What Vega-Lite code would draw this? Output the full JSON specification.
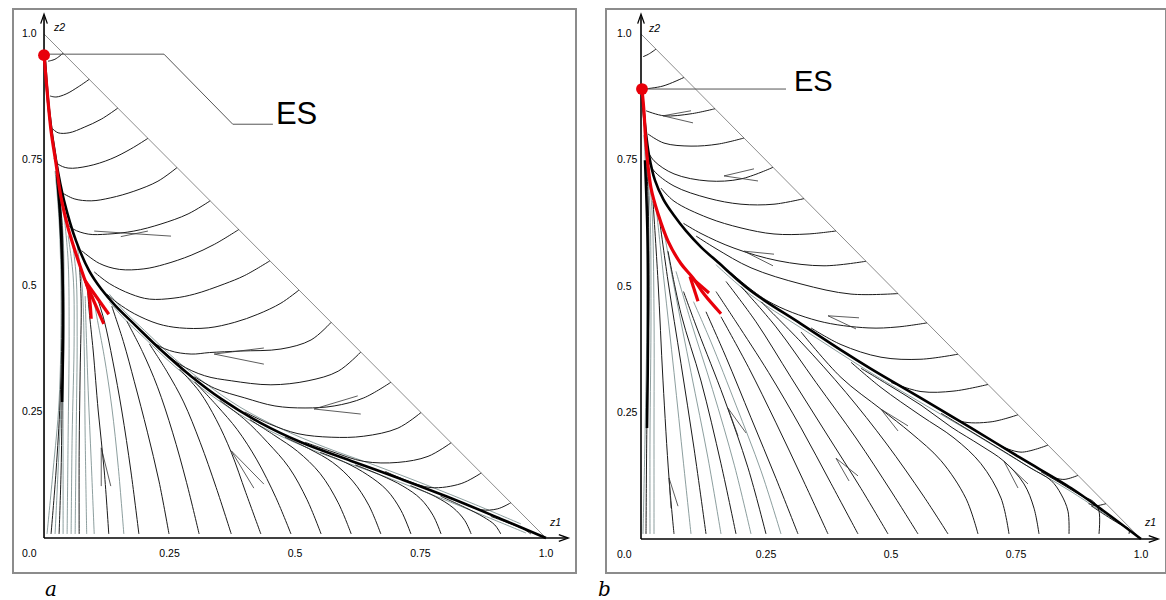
{
"$schema":"https://vega.github.io/schema/vega-lite/v6.json",
"padding":{"left":12,"top":8,"right":0,"bottom":0},
"spacing":30,
"bounds":"flush",
"config":{"view":{"stroke":"#8c8c8c","strokeWidth":2},"font":"Liberation Sans"},
"datasets":{
"ty":[{"v":1,"t":"1.0"},{"v":0.75,"t":"0.75"},{"v":0.5,"t":"0.5"},{"v":0.25,"t":"0.25"}],
"tx":[{"v":0.25,"t":"0.25"},{"v":0.5,"t":"0.5"},{"v":0.75,"t":"0.75"},{"v":1,"t":"1.0"}],
"a":[
{"c":"h","k":"h","x":0,"y":1},{"c":"h","k":"h","x":1,"y":0},
{"c":"ay","k":"ax","x":0,"y":0},{"c":"ay","k":"ax","x":0,"y":1.035},
{"c":"axx","k":"ax","x":0,"y":0},{"c":"axx","k":"ax","x":1.04,"y":0},
{"c":"ld","k":"ld","x":0,"y":0.96},{"c":"ld","k":"ld","x":0.239,"y":0.96},{"c":"ld","k":"ld","x":0.376,"y":0.821},{"c":"ld","k":"ld","x":0.456,"y":0.821},
{"c":"R","k":"r","x":0,"y":0.958},{"c":"R","k":"r","x":0.008,"y":0.867},{"c":"R","k":"r","x":0.014,"y":0.808},{"c":"R","k":"r","x":0.024,"y":0.742},{"c":"R","k":"r","x":0.034,"y":0.675},{"c":"R","k":"r","x":0.048,"y":0.615},{"c":"R","k":"r","x":0.064,"y":0.563},{"c":"R","k":"r","x":0.08,"y":0.516},{"c":"R","k":"r","x":0.088,"y":0.494},{"c":"R","k":"r","x":0.094,"y":0.435},
{"c":"R2","k":"r","x":0.082,"y":0.51},{"c":"R2","k":"r","x":0.129,"y":0.444},
{"c":"R3","k":"r","x":0.084,"y":0.505},{"c":"R3","k":"r","x":0.119,"y":0.425},
{"c":"S","k":"s","x":1,"y":0},{"c":"S","k":"s","x":0.91,"y":0.038},{"c":"S","k":"s","x":0.811,"y":0.079},{"c":"S","k":"s","x":0.711,"y":0.117},{"c":"S","k":"s","x":0.612,"y":0.153},{"c":"S","k":"s","x":0.512,"y":0.19},{"c":"S","k":"s","x":0.432,"y":0.228},{"c":"S","k":"s","x":0.353,"y":0.276},{"c":"S","k":"s","x":0.293,"y":0.321},{"c":"S","k":"s","x":0.233,"y":0.373},{"c":"S","k":"s","x":0.183,"y":0.421},{"c":"S","k":"s","x":0.143,"y":0.46},{"c":"S","k":"s","x":0.114,"y":0.494},{"c":"S","k":"s","x":0.09,"y":0.53},{"c":"S","k":"s","x":0.064,"y":0.589},{"c":"S","k":"s","x":0.04,"y":0.669},{"c":"S","k":"s","x":0.024,"y":0.748},{"c":"S","k":"s","x":0.01,"y":0.847},{"c":"S","k":"s","x":0.002,"y":0.946},
{"c":"S2","k":"g","x":0.95,"y":0.028},{"c":"S2","k":"g","x":0.86,"y":0.066},{"c":"S2","k":"g","x":0.76,"y":0.106},{"c":"S2","k":"g","x":0.66,"y":0.144},{"c":"S2","k":"g","x":0.56,"y":0.18},{"c":"S2","k":"g","x":0.47,"y":0.218},{"c":"S2","k":"g","x":0.39,"y":0.26},{"c":"S2","k":"g","x":0.32,"y":0.308},{"c":"S2","k":"g","x":0.26,"y":0.356},{"c":"S2","k":"g","x":0.2,"y":0.412},{"c":"S2","k":"g","x":0.16,"y":0.45},{"c":"S2","k":"g","x":0.13,"y":0.484},
{"c":"S3","k":"g","x":0.96,"y":0.01},{"c":"S3","k":"g","x":0.86,"y":0.051},{"c":"S3","k":"g","x":0.76,"y":0.091},{"c":"S3","k":"g","x":0.66,"y":0.129},{"c":"S3","k":"g","x":0.56,"y":0.165},{"c":"S3","k":"g","x":0.47,"y":0.203},{"c":"S3","k":"g","x":0.39,"y":0.245},{"c":"S3","k":"g","x":0.32,"y":0.293},{"c":"S3","k":"g","x":0.26,"y":0.341},{"c":"S3","k":"g","x":0.2,"y":0.397},{"c":"S3","k":"g","x":0.16,"y":0.435},{"c":"S3","k":"g","x":0.13,"y":0.469},
{"c":"A1","k":"t","x":0.038,"y":0.962},{"c":"A1","k":"t","x":0.022,"y":0.95},{"c":"A1","k":"t","x":0.008,"y":0.946},
{"c":"A2","k":"t","x":0.09,"y":0.91},{"c":"A2","k":"t","x":0.068,"y":0.895},{"c":"A2","k":"t","x":0.044,"y":0.881},{"c":"A2","k":"t","x":0.024,"y":0.875},{"c":"A2","k":"t","x":0.012,"y":0.877},
{"c":"A3","k":"t","x":0.147,"y":0.853},{"c":"A3","k":"t","x":0.114,"y":0.831},{"c":"A3","k":"t","x":0.08,"y":0.815},{"c":"A3","k":"t","x":0.05,"y":0.804},{"c":"A3","k":"t","x":0.028,"y":0.804},{"c":"A3","k":"t","x":0.017,"y":0.812},
{"c":"A4","k":"t","x":0.207,"y":0.793},{"c":"A4","k":"t","x":0.173,"y":0.772},{"c":"A4","k":"t","x":0.133,"y":0.752},{"c":"A4","k":"t","x":0.088,"y":0.738},{"c":"A4","k":"t","x":0.048,"y":0.734},{"c":"A4","k":"t","x":0.028,"y":0.742},{"c":"A4","k":"t","x":0.02,"y":0.754},
{"c":"A5","k":"t","x":0.265,"y":0.735},{"c":"A5","k":"t","x":0.227,"y":0.708},{"c":"A5","k":"t","x":0.179,"y":0.688},{"c":"A5","k":"t","x":0.133,"y":0.675},{"c":"A5","k":"t","x":0.094,"y":0.669},{"c":"A5","k":"t","x":0.06,"y":0.673},{"c":"A5","k":"t","x":0.036,"y":0.685},
{"c":"A6","k":"t","x":0.331,"y":0.669},{"c":"A6","k":"t","x":0.287,"y":0.643},{"c":"A6","k":"t","x":0.233,"y":0.623},{"c":"A6","k":"t","x":0.179,"y":0.609},{"c":"A6","k":"t","x":0.127,"y":0.603},{"c":"A6","k":"t","x":0.088,"y":0.603},{"c":"A6","k":"t","x":0.058,"y":0.613},{"c":"A6","k":"t","x":0.044,"y":0.625},
{"c":"A7","k":"t","x":0.388,"y":0.612},{"c":"A7","k":"t","x":0.34,"y":0.583},{"c":"A7","k":"t","x":0.293,"y":0.561},{"c":"A7","k":"t","x":0.24,"y":0.543},{"c":"A7","k":"t","x":0.199,"y":0.534},{"c":"A7","k":"t","x":0.15,"y":0.533},{"c":"A7","k":"t","x":0.11,"y":0.545},{"c":"A7","k":"t","x":0.075,"y":0.57},
{"c":"A8","k":"t","x":0.45,"y":0.55},{"c":"A8","k":"t","x":0.4,"y":0.521},{"c":"A8","k":"t","x":0.359,"y":0.504},{"c":"A8","k":"t","x":0.3,"y":0.484},{"c":"A8","k":"t","x":0.259,"y":0.476},{"c":"A8","k":"t","x":0.21,"y":0.474},{"c":"A8","k":"t","x":0.173,"y":0.484},{"c":"A8","k":"t","x":0.13,"y":0.505},{"c":"A8","k":"t","x":0.1,"y":0.528},
{"c":"A9","k":"t","x":0.508,"y":0.492},{"c":"A9","k":"t","x":0.472,"y":0.466},{"c":"A9","k":"t","x":0.426,"y":0.444},{"c":"A9","k":"t","x":0.38,"y":0.428},{"c":"A9","k":"t","x":0.327,"y":0.417},{"c":"A9","k":"t","x":0.27,"y":0.417},{"c":"A9","k":"t","x":0.227,"y":0.425},{"c":"A9","k":"t","x":0.18,"y":0.445},{"c":"A9","k":"t","x":0.147,"y":0.466},{"c":"A9","k":"t","x":0.125,"y":0.484},
{"c":"A10","k":"t","x":0.572,"y":0.428},{"c":"A10","k":"t","x":0.532,"y":0.393},{"c":"A10","k":"t","x":0.472,"y":0.375},{"c":"A10","k":"t","x":0.392,"y":0.371},{"c":"A10","k":"t","x":0.33,"y":0.368},{"c":"A10","k":"t","x":0.293,"y":0.365},{"c":"A10","k":"t","x":0.25,"y":0.372},{"c":"A10","k":"t","x":0.213,"y":0.391},{"c":"A10","k":"t","x":0.178,"y":0.426},
{"c":"A11","k":"t","x":0.631,"y":0.369},{"c":"A11","k":"t","x":0.586,"y":0.331},{"c":"A11","k":"t","x":0.526,"y":0.312},{"c":"A11","k":"t","x":0.452,"y":0.304},{"c":"A11","k":"t","x":0.373,"y":0.312},{"c":"A11","k":"t","x":0.32,"y":0.322},{"c":"A11","k":"t","x":0.27,"y":0.345},{"c":"A11","k":"t","x":0.22,"y":0.386},
{"c":"A12","k":"t","x":0.691,"y":0.309},{"c":"A12","k":"t","x":0.637,"y":0.278},{"c":"A12","k":"t","x":0.578,"y":0.262},{"c":"A12","k":"t","x":0.52,"y":0.258},{"c":"A12","k":"t","x":0.46,"y":0.262},{"c":"A12","k":"t","x":0.4,"y":0.278},{"c":"A12","k":"t","x":0.34,"y":0.297},{"c":"A12","k":"t","x":0.3,"y":0.32},
{"c":"A13","k":"t","x":0.751,"y":0.249},{"c":"A13","k":"t","x":0.705,"y":0.218},{"c":"A13","k":"t","x":0.637,"y":0.202},{"c":"A13","k":"t","x":0.572,"y":0.2},{"c":"A13","k":"t","x":0.506,"y":0.207},{"c":"A13","k":"t","x":0.45,"y":0.226},{"c":"A13","k":"t","x":0.4,"y":0.25},
{"c":"A14","k":"t","x":0.811,"y":0.189},{"c":"A14","k":"t","x":0.765,"y":0.162},{"c":"A14","k":"t","x":0.705,"y":0.15},{"c":"A14","k":"t","x":0.637,"y":0.152},{"c":"A14","k":"t","x":0.572,"y":0.172},{"c":"A14","k":"t","x":0.52,"y":0.19},
{"c":"A15","k":"t","x":0.871,"y":0.129},{"c":"A15","k":"t","x":0.831,"y":0.108},{"c":"A15","k":"t","x":0.771,"y":0.1},{"c":"A15","k":"t","x":0.72,"y":0.115},{"c":"A15","k":"t","x":0.68,"y":0.132},
{"c":"A16","k":"t","x":0.93,"y":0.07},{"c":"A16","k":"t","x":0.904,"y":0.058},{"c":"A16","k":"t","x":0.871,"y":0.056},{"c":"A16","k":"t","x":0.84,"y":0.068},
{"c":"T530","k":"t","x":0.97,"y":0.008},{"c":"T530","k":"t","x":0.955,"y":0.018},{"c":"T530","k":"t","x":0.93,"y":0.028},{"c":"T530","k":"t","x":0.89,"y":0.043},
{"c":"T500","k":"t","x":0.91,"y":0.008},{"c":"T500","k":"t","x":0.898,"y":0.026},{"c":"T500","k":"t","x":0.875,"y":0.042},{"c":"T500","k":"t","x":0.84,"y":0.06},{"c":"T500","k":"t","x":0.79,"y":0.083},
{"c":"T470","k":"t","x":0.851,"y":0.008},{"c":"T470","k":"t","x":0.838,"y":0.035},{"c":"T470","k":"t","x":0.815,"y":0.06},{"c":"T470","k":"t","x":0.78,"y":0.082},{"c":"T470","k":"t","x":0.73,"y":0.104},
{"c":"T440","k":"t","x":0.791,"y":0.008},{"c":"T440","k":"t","x":0.775,"y":0.045},{"c":"T440","k":"t","x":0.75,"y":0.078},{"c":"T440","k":"t","x":0.715,"y":0.103},{"c":"T440","k":"t","x":0.67,"y":0.125},{"c":"T440","k":"t","x":0.62,"y":0.145},
{"c":"T410","k":"t","x":0.731,"y":0.008},{"c":"T410","k":"t","x":0.711,"y":0.055},{"c":"T410","k":"t","x":0.683,"y":0.095},{"c":"T410","k":"t","x":0.645,"y":0.125},{"c":"T410","k":"t","x":0.6,"y":0.15},{"c":"T410","k":"t","x":0.55,"y":0.17},
{"c":"T380","k":"t","x":0.671,"y":0.008},{"c":"T380","k":"t","x":0.647,"y":0.065},{"c":"T380","k":"t","x":0.615,"y":0.113},{"c":"T380","k":"t","x":0.575,"y":0.15},{"c":"T380","k":"t","x":0.53,"y":0.176},{"c":"T380","k":"t","x":0.48,"y":0.2},
{"c":"T350","k":"t","x":0.612,"y":0.008},{"c":"T350","k":"t","x":0.586,"y":0.07},{"c":"T350","k":"t","x":0.55,"y":0.128},{"c":"T350","k":"t","x":0.505,"y":0.172},{"c":"T350","k":"t","x":0.46,"y":0.203},{"c":"T350","k":"t","x":0.41,"y":0.235},
{"c":"T320","k":"t","x":0.552,"y":0.008},{"c":"T320","k":"t","x":0.524,"y":0.076},{"c":"T320","k":"t","x":0.488,"y":0.14},{"c":"T320","k":"t","x":0.445,"y":0.19},{"c":"T320","k":"t","x":0.4,"y":0.235},{"c":"T320","k":"t","x":0.35,"y":0.273},
{"c":"T290","k":"t","x":0.492,"y":0.008},{"c":"T290","k":"t","x":0.462,"y":0.08},{"c":"T290","k":"t","x":0.424,"y":0.155},{"c":"T290","k":"t","x":0.385,"y":0.215},{"c":"T290","k":"t","x":0.345,"y":0.262},{"c":"T290","k":"t","x":0.3,"y":0.31},
{"c":"T260","k":"t","x":0.432,"y":0.008},{"c":"T260","k":"t","x":0.402,"y":0.09},{"c":"T260","k":"t","x":0.373,"y":0.17},{"c":"T260","k":"t","x":0.343,"y":0.235},{"c":"T260","k":"t","x":0.31,"y":0.29},{"c":"T260","k":"t","x":0.27,"y":0.335},
{"c":"T230","k":"t","x":0.373,"y":0.008},{"c":"T230","k":"t","x":0.343,"y":0.1},{"c":"T230","k":"t","x":0.311,"y":0.19},{"c":"T230","k":"t","x":0.278,"y":0.27},{"c":"T230","k":"t","x":0.245,"y":0.33},{"c":"T230","k":"t","x":0.21,"y":0.385},
{"c":"T198","k":"t","x":0.309,"y":0.008},{"c":"T198","k":"t","x":0.284,"y":0.11},{"c":"T198","k":"t","x":0.256,"y":0.21},{"c":"T198","k":"t","x":0.226,"y":0.3},{"c":"T198","k":"t","x":0.196,"y":0.37},{"c":"T198","k":"t","x":0.165,"y":0.43},
{"c":"T168","k":"t","x":0.249,"y":0.008},{"c":"T168","k":"t","x":0.229,"y":0.113},{"c":"T168","k":"t","x":0.206,"y":0.21},{"c":"T168","k":"t","x":0.18,"y":0.31},{"c":"T168","k":"t","x":0.158,"y":0.39},{"c":"T168","k":"t","x":0.135,"y":0.46},
{"c":"T138","k":"t","x":0.189,"y":0.008},{"c":"T138","k":"t","x":0.173,"y":0.133},{"c":"T138","k":"t","x":0.155,"y":0.252},{"c":"T138","k":"t","x":0.137,"y":0.351},{"c":"T138","k":"t","x":0.12,"y":0.431},{"c":"T138","k":"t","x":0.105,"y":0.48},
{"c":"T123","k":"g","x":0.159,"y":0.008},{"c":"T123","k":"g","x":0.148,"y":0.14},{"c":"T123","k":"g","x":0.135,"y":0.26},{"c":"T123","k":"g","x":0.12,"y":0.36},{"c":"T123","k":"g","x":0.105,"y":0.44},{"c":"T123","k":"g","x":0.098,"y":0.48},
{"c":"T108","k":"t","x":0.129,"y":0.008},{"c":"T108","k":"t","x":0.12,"y":0.133},{"c":"T108","k":"t","x":0.108,"y":0.252},{"c":"T108","k":"t","x":0.098,"y":0.371},{"c":"T108","k":"t","x":0.09,"y":0.45},{"c":"T108","k":"t","x":0.087,"y":0.49},
{"c":"T93","k":"g","x":0.1,"y":0.008},{"c":"T93","k":"g","x":0.094,"y":0.153},{"c":"T93","k":"g","x":0.088,"y":0.292},{"c":"T93","k":"g","x":0.084,"y":0.411},{"c":"T93","k":"g","x":0.082,"y":0.48},
{"c":"T78","k":"t","x":0.07,"y":0.008},{"c":"T78","k":"t","x":0.07,"y":0.173},{"c":"T78","k":"t","x":0.072,"y":0.331},{"c":"T78","k":"t","x":0.074,"y":0.47},{"c":"T78","k":"t","x":0.07,"y":0.55},
{"c":"G70","k":"g","x":0.054,"y":0.008},{"c":"G70","k":"g","x":0.056,"y":0.2},{"c":"G70","k":"g","x":0.06,"y":0.4},{"c":"G70","k":"g","x":0.058,"y":0.52},{"c":"G70","k":"g","x":0.048,"y":0.6},
{"c":"G1","k":"g","x":0.046,"y":0.008},{"c":"G1","k":"g","x":0.048,"y":0.2},{"c":"G1","k":"g","x":0.05,"y":0.4},{"c":"G1","k":"g","x":0.048,"y":0.55},{"c":"G1","k":"g","x":0.04,"y":0.64},
{"c":"G2","k":"g","x":0.062,"y":0.008},{"c":"G2","k":"g","x":0.064,"y":0.2},{"c":"G2","k":"g","x":0.066,"y":0.4},{"c":"G2","k":"g","x":0.064,"y":0.52},{"c":"G2","k":"g","x":0.055,"y":0.6},
{"c":"G3","k":"g","x":0.085,"y":0.008},{"c":"G3","k":"g","x":0.082,"y":0.2},{"c":"G3","k":"g","x":0.08,"y":0.38},{"c":"G3","k":"g","x":0.076,"y":0.5},{"c":"G3","k":"g","x":0.066,"y":0.58},
{"c":"L1","k":"g","x":0.006,"y":0.008},{"c":"L1","k":"g","x":0.018,"y":0.133},{"c":"L1","k":"g","x":0.03,"y":0.272},{"c":"L1","k":"g","x":0.034,"y":0.47},{"c":"L1","k":"g","x":0.03,"y":0.629},{"c":"L1","k":"g","x":0.022,"y":0.728},
{"c":"L2","k":"t","x":0.014,"y":0.008},{"c":"L2","k":"t","x":0.024,"y":0.133},{"c":"L2","k":"t","x":0.032,"y":0.272},{"c":"L2","k":"t","x":0.036,"y":0.47},{"c":"L2","k":"t","x":0.032,"y":0.629},{"c":"L2","k":"t","x":0.024,"y":0.728},
{"c":"L3","k":"g","x":0.022,"y":0.008},{"c":"L3","k":"g","x":0.028,"y":0.133},{"c":"L3","k":"g","x":0.034,"y":0.272},{"c":"L3","k":"g","x":0.038,"y":0.47},{"c":"L3","k":"g","x":0.034,"y":0.629},{"c":"L3","k":"g","x":0.026,"y":0.72},
{"c":"L4","k":"t","x":0.03,"y":0.008},{"c":"L4","k":"t","x":0.034,"y":0.133},{"c":"L4","k":"t","x":0.036,"y":0.272},{"c":"L4","k":"t","x":0.038,"y":0.47},{"c":"L4","k":"t","x":0.036,"y":0.62},{"c":"L4","k":"t","x":0.028,"y":0.71},
{"c":"L5","k":"g","x":0.038,"y":0.008},{"c":"L5","k":"g","x":0.038,"y":0.133},{"c":"L5","k":"g","x":0.038,"y":0.272},{"c":"L5","k":"g","x":0.04,"y":0.47},{"c":"L5","k":"g","x":0.038,"y":0.6},{"c":"L5","k":"g","x":0.03,"y":0.69},
{"c":"LB","k":"s","x":0.036,"y":0.27},{"c":"LB","k":"s","x":0.038,"y":0.4},{"c":"LB","k":"s","x":0.037,"y":0.52},{"c":"LB","k":"s","x":0.032,"y":0.64},{"c":"LB","k":"s","x":0.026,"y":0.72},
{"c":"AR1a","k":"ar","x":0.1,"y":0.609},{"c":"AR1a","k":"ar","x":0.253,"y":0.599},
{"c":"AR1b","k":"ar","x":0.153,"y":0.598},{"c":"AR1b","k":"ar","x":0.207,"y":0.609},
{"c":"AR2","k":"ar","x":0.438,"y":0.377},{"c":"AR2","k":"ar","x":0.339,"y":0.365},{"c":"AR2","k":"ar","x":0.438,"y":0.345},
{"c":"AR3","k":"ar","x":0.625,"y":0.282},{"c":"AR3","k":"ar","x":0.538,"y":0.256},{"c":"AR3","k":"ar","x":0.631,"y":0.246},
{"c":"AR4","k":"ar","x":0.438,"y":0.107},{"c":"AR4","k":"ar","x":0.373,"y":0.173},{"c":"AR4","k":"ar","x":0.418,"y":0.099},
{"c":"AR5","k":"ar","x":0.114,"y":0.103},{"c":"AR5","k":"ar","x":0.114,"y":0.179},{"c":"AR5","k":"ar","x":0.133,"y":0.103}
],
"b":[
{"c":"h","k":"h","x":0,"y":1},{"c":"h","k":"h","x":1,"y":0},
{"c":"ay","k":"ax","x":0,"y":0},{"c":"ay","k":"ax","x":0,"y":1.035},
{"c":"axx","k":"ax","x":0,"y":0},{"c":"axx","k":"ax","x":1.03,"y":0},
{"c":"ld","k":"ld","x":0.002,"y":0.891},{"c":"ld","k":"ld","x":0.29,"y":0.891},
{"c":"R","k":"r","x":0.002,"y":0.891},{"c":"R","k":"r","x":0.006,"y":0.846},{"c":"R","k":"r","x":0.01,"y":0.782},{"c":"R","k":"r","x":0.02,"y":0.695},{"c":"R","k":"r","x":0.034,"y":0.644},{"c":"R","k":"r","x":0.054,"y":0.59},{"c":"R","k":"r","x":0.08,"y":0.545},{"c":"R","k":"r","x":0.104,"y":0.517},{"c":"R","k":"r","x":0.126,"y":0.485},{"c":"R","k":"r","x":0.16,"y":0.446},
{"c":"R2","k":"r","x":0.098,"y":0.52},{"c":"R2","k":"r","x":0.114,"y":0.471},
{"c":"R3","k":"r","x":0.098,"y":0.52},{"c":"R3","k":"r","x":0.136,"y":0.487},
{"c":"S","k":"s","x":1,"y":0},{"c":"S","k":"s","x":0.926,"y":0.055},{"c":"S","k":"s","x":0.86,"y":0.101},{"c":"S","k":"s","x":0.76,"y":0.16},{"c":"S","k":"s","x":0.66,"y":0.22},{"c":"S","k":"s","x":0.56,"y":0.279},{"c":"S","k":"s","x":0.46,"y":0.337},{"c":"S","k":"s","x":0.4,"y":0.374},{"c":"S","k":"s","x":0.32,"y":0.426},{"c":"S","k":"s","x":0.22,"y":0.491},{"c":"S","k":"s","x":0.154,"y":0.548},{"c":"S","k":"s","x":0.12,"y":0.578},{"c":"S","k":"s","x":0.09,"y":0.61},{"c":"S","k":"s","x":0.065,"y":0.642},{"c":"S","k":"s","x":0.045,"y":0.672},{"c":"S","k":"s","x":0.028,"y":0.71},{"c":"S","k":"s","x":0.016,"y":0.76},{"c":"S","k":"s","x":0.008,"y":0.82},{"c":"S","k":"s","x":0.004,"y":0.86},{"c":"S","k":"s","x":0.002,"y":0.891},
{"c":"S2","k":"g","x":0.95,"y":0.035},{"c":"S2","k":"g","x":0.86,"y":0.094},{"c":"S2","k":"g","x":0.76,"y":0.152},{"c":"S2","k":"g","x":0.66,"y":0.212},{"c":"S2","k":"g","x":0.56,"y":0.27},{"c":"S2","k":"g","x":0.46,"y":0.329},{"c":"S2","k":"g","x":0.32,"y":0.418},{"c":"S2","k":"g","x":0.22,"y":0.483},{"c":"S2","k":"g","x":0.15,"y":0.543},
{"c":"LB","k":"s","x":0.012,"y":0.22},{"c":"LB","k":"s","x":0.014,"y":0.4},{"c":"LB","k":"s","x":0.013,"y":0.6},{"c":"LB","k":"s","x":0.008,"y":0.75},
{"c":"L1","k":"g","x":0.004,"y":0.01},{"c":"L1","k":"g","x":0.008,"y":0.2},{"c":"L1","k":"g","x":0.012,"y":0.45},{"c":"L1","k":"g","x":0.012,"y":0.65},{"c":"L1","k":"g","x":0.006,"y":0.8},
{"c":"L2","k":"g","x":0.018,"y":0.01},{"c":"L2","k":"g","x":0.018,"y":0.2},{"c":"L2","k":"g","x":0.02,"y":0.45},{"c":"L2","k":"g","x":0.018,"y":0.65},{"c":"L2","k":"g","x":0.01,"y":0.78},
{"c":"L3","k":"g","x":0.026,"y":0.01},{"c":"L3","k":"g","x":0.026,"y":0.2},{"c":"L3","k":"g","x":0.026,"y":0.45},{"c":"L3","k":"g","x":0.022,"y":0.65},{"c":"L3","k":"g","x":0.012,"y":0.76},
{"c":"L4","k":"t","x":0.01,"y":0.01},{"c":"L4","k":"t","x":0.012,"y":0.25},{"c":"L4","k":"t","x":0.016,"y":0.5},{"c":"L4","k":"t","x":0.014,"y":0.68},{"c":"L4","k":"t","x":0.008,"y":0.8},
{"c":"T673","k":"t","x":0.066,"y":0.01},{"c":"T673","k":"t","x":0.056,"y":0.121},{"c":"T673","k":"t","x":0.044,"y":0.313},{"c":"T673","k":"t","x":0.034,"y":0.511},{"c":"T673","k":"t","x":0.024,"y":0.669},
{"c":"T690","k":"g","x":0.1,"y":0.01},{"c":"T690","k":"g","x":0.085,"y":0.15},{"c":"T690","k":"g","x":0.066,"y":0.33},{"c":"T690","k":"g","x":0.046,"y":0.511},{"c":"T690","k":"g","x":0.03,"y":0.66},
{"c":"T705","k":"t","x":0.13,"y":0.01},{"c":"T705","k":"t","x":0.106,"y":0.18},{"c":"T705","k":"t","x":0.08,"y":0.347},{"c":"T705","k":"t","x":0.054,"y":0.511},{"c":"T705","k":"t","x":0.036,"y":0.64},
{"c":"T720","k":"g","x":0.16,"y":0.01},{"c":"T720","k":"g","x":0.134,"y":0.16},{"c":"T720","k":"g","x":0.1,"y":0.33},{"c":"T720","k":"g","x":0.068,"y":0.49},{"c":"T720","k":"g","x":0.044,"y":0.62},
{"c":"T735","k":"t","x":0.19,"y":0.01},{"c":"T735","k":"t","x":0.16,"y":0.149},{"c":"T735","k":"t","x":0.12,"y":0.313},{"c":"T735","k":"t","x":0.08,"y":0.446},{"c":"T735","k":"t","x":0.054,"y":0.57},
{"c":"T750","k":"g","x":0.22,"y":0.01},{"c":"T750","k":"g","x":0.187,"y":0.145},{"c":"T750","k":"g","x":0.143,"y":0.296},{"c":"T750","k":"g","x":0.1,"y":0.43},{"c":"T750","k":"g","x":0.07,"y":0.53},
{"c":"T765","k":"t","x":0.25,"y":0.01},{"c":"T765","k":"t","x":0.214,"y":0.141},{"c":"T765","k":"t","x":0.166,"y":0.279},{"c":"T765","k":"t","x":0.114,"y":0.412},{"c":"T765","k":"t","x":0.085,"y":0.49},
{"c":"T780","k":"g","x":0.28,"y":0.01},{"c":"T780","k":"g","x":0.24,"y":0.135},{"c":"T780","k":"g","x":0.19,"y":0.265},{"c":"T780","k":"g","x":0.14,"y":0.39},{"c":"T780","k":"g","x":0.105,"y":0.47},
{"c":"T797","k":"t","x":0.314,"y":0.01},{"c":"T797","k":"t","x":0.27,"y":0.12},{"c":"T797","k":"t","x":0.22,"y":0.24},{"c":"T797","k":"t","x":0.17,"y":0.36},{"c":"T797","k":"t","x":0.13,"y":0.45},
{"c":"T827","k":"t","x":0.374,"y":0.01},{"c":"T827","k":"t","x":0.325,"y":0.115},{"c":"T827","k":"t","x":0.27,"y":0.23},{"c":"T827","k":"t","x":0.215,"y":0.34},{"c":"T827","k":"t","x":0.16,"y":0.44},
{"c":"T857","k":"t","x":0.434,"y":0.01},{"c":"T857","k":"t","x":0.38,"y":0.11},{"c":"T857","k":"t","x":0.32,"y":0.22},{"c":"T857","k":"t","x":0.255,"y":0.33},{"c":"T857","k":"t","x":0.19,"y":0.43},{"c":"T857","k":"t","x":0.15,"y":0.49},
{"c":"T887","k":"t","x":0.494,"y":0.01},{"c":"T887","k":"t","x":0.44,"y":0.1},{"c":"T887","k":"t","x":0.37,"y":0.21},{"c":"T887","k":"t","x":0.3,"y":0.32},{"c":"T887","k":"t","x":0.23,"y":0.43},{"c":"T887","k":"t","x":0.17,"y":0.51},
{"c":"T917","k":"t","x":0.554,"y":0.01},{"c":"T917","k":"t","x":0.5,"y":0.095},{"c":"T917","k":"t","x":0.43,"y":0.2},{"c":"T917","k":"t","x":0.35,"y":0.31},{"c":"T917","k":"t","x":0.27,"y":0.42},{"c":"T917","k":"t","x":0.2,"y":0.5},
{"c":"T947","k":"t","x":0.614,"y":0.01},{"c":"T947","k":"t","x":0.565,"y":0.085},{"c":"T947","k":"t","x":0.49,"y":0.19},{"c":"T947","k":"t","x":0.41,"y":0.29},{"c":"T947","k":"t","x":0.32,"y":0.39},{"c":"T947","k":"t","x":0.24,"y":0.47},
{"c":"T977","k":"t","x":0.674,"y":0.01},{"c":"T977","k":"t","x":0.65,"y":0.08},{"c":"T977","k":"t","x":0.6,"y":0.155},{"c":"T977","k":"t","x":0.54,"y":0.21},{"c":"T977","k":"t","x":0.48,"y":0.257},{"c":"T977","k":"t","x":0.4,"y":0.32},{"c":"T977","k":"t","x":0.32,"y":0.41},
{"c":"T1008","k":"t","x":0.736,"y":0.01},{"c":"T1008","k":"t","x":0.72,"y":0.081},{"c":"T1008","k":"t","x":0.68,"y":0.149},{"c":"T1008","k":"t","x":0.626,"y":0.2},{"c":"T1008","k":"t","x":0.56,"y":0.244},{"c":"T1008","k":"t","x":0.48,"y":0.3},{"c":"T1008","k":"t","x":0.42,"y":0.35},
{"c":"T1038","k":"t","x":0.796,"y":0.01},{"c":"T1038","k":"t","x":0.786,"y":0.061},{"c":"T1038","k":"t","x":0.766,"y":0.109},{"c":"T1038","k":"t","x":0.726,"y":0.154},{"c":"T1038","k":"t","x":0.68,"y":0.185},{"c":"T1038","k":"t","x":0.62,"y":0.222},{"c":"T1038","k":"t","x":0.56,"y":0.265},{"c":"T1038","k":"t","x":0.5,"y":0.302},{"c":"T1038","k":"t","x":0.44,"y":0.338},
{"c":"T1068","k":"t","x":0.856,"y":0.01},{"c":"T1068","k":"t","x":0.854,"y":0.055},{"c":"T1068","k":"t","x":0.84,"y":0.089},{"c":"T1068","k":"t","x":0.82,"y":0.116},{"c":"T1068","k":"t","x":0.78,"y":0.14},{"c":"T1068","k":"t","x":0.72,"y":0.177},{"c":"T1068","k":"t","x":0.66,"y":0.213},{"c":"T1068","k":"t","x":0.6,"y":0.249},
{"c":"T1098","k":"t","x":0.916,"y":0.01},{"c":"T1098","k":"t","x":0.916,"y":0.055},{"c":"T1098","k":"t","x":0.905,"y":0.074},{"c":"T1098","k":"t","x":0.88,"y":0.086},{"c":"T1098","k":"t","x":0.84,"y":0.11},{"c":"T1098","k":"t","x":0.8,"y":0.133},
{"c":"T1128","k":"t","x":0.976,"y":0.01},{"c":"T1128","k":"t","x":0.976,"y":0.02},{"c":"T1128","k":"t","x":0.962,"y":0.027},{"c":"T1128","k":"t","x":0.94,"y":0.04},{"c":"T1128","k":"t","x":0.9,"y":0.066},
{"c":"B0","k":"t","x":0.03,"y":0.97},{"c":"B0","k":"t","x":0.015,"y":0.96},{"c":"B0","k":"t","x":0.004,"y":0.955},
{"c":"B1","k":"t","x":0.086,"y":0.914},{"c":"B1","k":"t","x":0.044,"y":0.897},{"c":"B1","k":"t","x":0.006,"y":0.891},
{"c":"B2","k":"t","x":0.148,"y":0.852},{"c":"B2","k":"t","x":0.1,"y":0.842},{"c":"B2","k":"t","x":0.046,"y":0.838},{"c":"B2","k":"t","x":0.01,"y":0.848},
{"c":"B3","k":"t","x":0.206,"y":0.794},{"c":"B3","k":"t","x":0.154,"y":0.782},{"c":"B3","k":"t","x":0.1,"y":0.778},{"c":"B3","k":"t","x":0.046,"y":0.784},{"c":"B3","k":"t","x":0.014,"y":0.802},
{"c":"B4","k":"t","x":0.264,"y":0.736},{"c":"B4","k":"t","x":0.2,"y":0.713},{"c":"B4","k":"t","x":0.134,"y":0.709},{"c":"B4","k":"t","x":0.066,"y":0.723},{"c":"B4","k":"t","x":0.026,"y":0.749},{"c":"B4","k":"t","x":0.01,"y":0.774},
{"c":"B5","k":"t","x":0.326,"y":0.674},{"c":"B5","k":"t","x":0.266,"y":0.663},{"c":"B5","k":"t","x":0.2,"y":0.663},{"c":"B5","k":"t","x":0.134,"y":0.675},{"c":"B5","k":"t","x":0.066,"y":0.699},{"c":"B5","k":"t","x":0.026,"y":0.729},{"c":"B5","k":"t","x":0.014,"y":0.75},
{"c":"B6","k":"t","x":0.39,"y":0.61},{"c":"B6","k":"t","x":0.334,"y":0.604},{"c":"B6","k":"t","x":0.266,"y":0.604},{"c":"B6","k":"t","x":0.2,"y":0.616},{"c":"B6","k":"t","x":0.134,"y":0.636},{"c":"B6","k":"t","x":0.066,"y":0.669},{"c":"B6","k":"t","x":0.04,"y":0.695},
{"c":"B7","k":"t","x":0.45,"y":0.55},{"c":"B7","k":"t","x":0.366,"y":0.541},{"c":"B7","k":"t","x":0.274,"y":0.551},{"c":"B7","k":"t","x":0.186,"y":0.576},{"c":"B7","k":"t","x":0.12,"y":0.605},{"c":"B7","k":"t","x":0.085,"y":0.625},
{"c":"B8","k":"t","x":0.514,"y":0.486},{"c":"B8","k":"t","x":0.42,"y":0.485},{"c":"B8","k":"t","x":0.32,"y":0.505},{"c":"B8","k":"t","x":0.22,"y":0.537},{"c":"B8","k":"t","x":0.15,"y":0.575},{"c":"B8","k":"t","x":0.11,"y":0.6},
{"c":"B9","k":"t","x":0.572,"y":0.428},{"c":"B9","k":"t","x":0.514,"y":0.42},{"c":"B9","k":"t","x":0.454,"y":0.418},{"c":"B9","k":"t","x":0.354,"y":0.432},{"c":"B9","k":"t","x":0.254,"y":0.471},{"c":"B9","k":"t","x":0.18,"y":0.527},
{"c":"B10","k":"t","x":0.634,"y":0.366},{"c":"B10","k":"t","x":0.56,"y":0.356},{"c":"B10","k":"t","x":0.48,"y":0.36},{"c":"B10","k":"t","x":0.4,"y":0.385},{"c":"B10","k":"t","x":0.34,"y":0.418},
{"c":"B11","k":"t","x":0.694,"y":0.306},{"c":"B11","k":"t","x":0.626,"y":0.293},{"c":"B11","k":"t","x":0.56,"y":0.292},{"c":"B11","k":"t","x":0.5,"y":0.31},
{"c":"B12","k":"t","x":0.754,"y":0.246},{"c":"B12","k":"t","x":0.7,"y":0.232},{"c":"B12","k":"t","x":0.64,"y":0.233},{"c":"B12","k":"t","x":0.6,"y":0.255},
{"c":"B13","k":"t","x":0.814,"y":0.186},{"c":"B13","k":"t","x":0.76,"y":0.172},{"c":"B13","k":"t","x":0.72,"y":0.184},
{"c":"B14","k":"t","x":0.874,"y":0.126},{"c":"B14","k":"t","x":0.846,"y":0.118},{"c":"B14","k":"t","x":0.82,"y":0.123},
{"c":"B15","k":"t","x":0.93,"y":0.07},{"c":"B15","k":"t","x":0.91,"y":0.066},{"c":"B15","k":"t","x":0.895,"y":0.07},
{"c":"AR1","k":"ar","x":0.1,"y":0.848},{"c":"AR1","k":"ar","x":0.044,"y":0.838},{"c":"AR1","k":"ar","x":0.104,"y":0.824},
{"c":"AR2","k":"ar","x":0.226,"y":0.733},{"c":"AR2","k":"ar","x":0.166,"y":0.719},{"c":"AR2","k":"ar","x":0.234,"y":0.709},
{"c":"AR3","k":"ar","x":0.266,"y":0.564},{"c":"AR3","k":"ar","x":0.206,"y":0.57},{"c":"AR3","k":"ar","x":0.264,"y":0.541},
{"c":"AR4","k":"ar","x":0.436,"y":0.438},{"c":"AR4","k":"ar","x":0.374,"y":0.442},{"c":"AR4","k":"ar","x":0.43,"y":0.416},
{"c":"AR5","k":"ar","x":0.754,"y":0.101},{"c":"AR5","k":"ar","x":0.726,"y":0.154},{"c":"AR5","k":"ar","x":0.774,"y":0.109},
{"c":"AR6","k":"ar","x":0.534,"y":0.224},{"c":"AR6","k":"ar","x":0.48,"y":0.257},{"c":"AR6","k":"ar","x":0.514,"y":0.214},
{"c":"AR7","k":"ar","x":0.194,"y":0.204},{"c":"AR7","k":"ar","x":0.174,"y":0.259},{"c":"AR7","k":"ar","x":0.21,"y":0.21},
{"c":"AR8","k":"ar","x":0.06,"y":0.061},{"c":"AR8","k":"ar","x":0.056,"y":0.121},{"c":"AR8","k":"ar","x":0.074,"y":0.065},
{"c":"AR9","k":"ar","x":0.416,"y":0.115},{"c":"AR9","k":"ar","x":0.39,"y":0.16},{"c":"AR9","k":"ar","x":0.434,"y":0.125}
]
},
"hconcat":[
{
"width":563,"height":564,
"title":{"text":"a","orient":"bottom","anchor":"start","offset":7,"dx":32,"fontSize":20,"font":"DejaVu Serif","fontStyle":"italic","fontWeight":"normal","color":"#000"},
"data":{"name":"a"},
"layer":[
{"transform":[{"filter":"datum.k=='h'"}],"mark":{"type":"line","color":"#8c8c8c","strokeWidth":1},
"encoding":{"x":{"field":"x","type":"quantitative","scale":{"domain":[-0.0618,1.0598],"nice":false,"zero":false},"axis":null},"y":{"field":"y","type":"quantitative","scale":{"domain":[-0.0694,1.0496],"nice":false,"zero":false},"axis":null},"detail":{"field":"c"},"order":{"value":null}}},
{"transform":[{"filter":"datum.k=='g'"}],"mark":{"type":"line","color":"#6f8585","strokeWidth":0.8,"interpolate":"catmull-rom"},
"encoding":{"x":{"field":"x","type":"quantitative","scale":{"domain":[-0.0618,1.0598],"nice":false,"zero":false},"axis":null},"y":{"field":"y","type":"quantitative","scale":{"domain":[-0.0694,1.0496],"nice":false,"zero":false},"axis":null},"detail":{"field":"c"},"order":{"value":null}}},
{"transform":[{"filter":"datum.k=='t'"}],"mark":{"type":"line","color":"#1a1a1a","strokeWidth":1,"interpolate":"catmull-rom"},
"encoding":{"x":{"field":"x","type":"quantitative","scale":{"domain":[-0.0618,1.0598],"nice":false,"zero":false},"axis":null},"y":{"field":"y","type":"quantitative","scale":{"domain":[-0.0694,1.0496],"nice":false,"zero":false},"axis":null},"detail":{"field":"c"},"order":{"value":null}}},
{"transform":[{"filter":"datum.k=='s'"}],"mark":{"type":"line","color":"#000","strokeWidth":2.6,"interpolate":"catmull-rom"},
"encoding":{"x":{"field":"x","type":"quantitative","scale":{"domain":[-0.0618,1.0598],"nice":false,"zero":false},"axis":null},"y":{"field":"y","type":"quantitative","scale":{"domain":[-0.0694,1.0496],"nice":false,"zero":false},"axis":null},"detail":{"field":"c"},"order":{"value":null}}},
{"transform":[{"filter":"datum.k=='ar'"}],"mark":{"type":"line","color":"#333","strokeWidth":0.8},
"encoding":{"x":{"field":"x","type":"quantitative","scale":{"domain":[-0.0618,1.0598],"nice":false,"zero":false},"axis":null},"y":{"field":"y","type":"quantitative","scale":{"domain":[-0.0694,1.0496],"nice":false,"zero":false},"axis":null},"detail":{"field":"c"},"order":{"value":null}}},
{"transform":[{"filter":"datum.k=='ld'"}],"mark":{"type":"line","color":"#555","strokeWidth":1},
"encoding":{"x":{"field":"x","type":"quantitative","scale":{"domain":[-0.0618,1.0598],"nice":false,"zero":false},"axis":null},"y":{"field":"y","type":"quantitative","scale":{"domain":[-0.0694,1.0496],"nice":false,"zero":false},"axis":null},"detail":{"field":"c"},"order":{"value":null}}},
{"transform":[{"filter":"datum.k=='ax'"}],"mark":{"type":"line","color":"#000","strokeWidth":1.6},
"encoding":{"x":{"field":"x","type":"quantitative","scale":{"domain":[-0.0618,1.0598],"nice":false,"zero":false},"axis":null},"y":{"field":"y","type":"quantitative","scale":{"domain":[-0.0694,1.0496],"nice":false,"zero":false},"axis":null},"detail":{"field":"c"},"order":{"value":null}}},
{"transform":[{"filter":"datum.k=='r'"}],"mark":{"type":"line","color":"#e8000a","strokeWidth":3.2,"interpolate":"catmull-rom"},
"encoding":{"x":{"field":"x","type":"quantitative","scale":{"domain":[-0.0618,1.0598],"nice":false,"zero":false},"axis":null},"y":{"field":"y","type":"quantitative","scale":{"domain":[-0.0694,1.0496],"nice":false,"zero":false},"axis":null},"detail":{"field":"c"},"order":{"value":null}}},
{"data":{"values":[{"p":"top"}]},"mark":{"type":"point","shape":"M-0.7,1L0,-1L0.7,1","filled":false,"stroke":"#000","strokeWidth":1.3,"size":90,"opacity":1},
"encoding":{"x":{"datum":0,"type":"quantitative","scale":{"domain":[-0.0618,1.0598],"nice":false,"zero":false},"axis":null},"y":{"datum":1.03,"type":"quantitative","scale":{"domain":[-0.0694,1.0496],"nice":false,"zero":false},"axis":null}}},
{"data":{"values":[{"p":"right"}]},"mark":{"type":"point","shape":"M-1,-0.7L1,0L-1,0.7","filled":false,"stroke":"#000","strokeWidth":1.3,"size":90,"opacity":1},
"encoding":{"x":{"datum":1.035,"type":"quantitative","scale":{"domain":[-0.0618,1.0598],"nice":false,"zero":false},"axis":null},"y":{"datum":0,"type":"quantitative","scale":{"domain":[-0.0694,1.0496],"nice":false,"zero":false},"axis":null}}},
{"data":{"values":[{"p":"ES"}]},"mark":{"type":"point","filled":true,"color":"#e8000a","size":140,"opacity":1},
"encoding":{"x":{"datum":0,"type":"quantitative","scale":{"domain":[-0.0618,1.0598],"nice":false,"zero":false},"axis":null},"y":{"datum":0.958,"type":"quantitative","scale":{"domain":[-0.0694,1.0496],"nice":false,"zero":false},"axis":null}}},
{"data":{"name":"ty"},"mark":{"type":"text","align":"left","baseline":"middle","dx":-22,"fontSize":10.5,"color":"#000"},
"encoding":{"x":{"datum":0,"type":"quantitative","scale":{"domain":[-0.0618,1.0598],"nice":false,"zero":false},"axis":null},"y":{"field":"v","type":"quantitative","scale":{"domain":[-0.0694,1.0496],"nice":false,"zero":false},"axis":null},"text":{"field":"t"}}},
{"data":{"name":"tx"},"mark":{"type":"text","align":"center","baseline":"middle","dy":16,"fontSize":10.5,"color":"#000"},
"encoding":{"x":{"field":"v","type":"quantitative","scale":{"domain":[-0.0618,1.0598],"nice":false,"zero":false},"axis":null},"y":{"datum":0,"type":"quantitative","scale":{"domain":[-0.0694,1.0496],"nice":false,"zero":false},"axis":null},"text":{"field":"t"}}},
{"data":{"values":[{"t":"0.0"}]},"mark":{"type":"text","align":"left","baseline":"middle","dx":-22,"dy":16,"fontSize":10.5,"color":"#000"},
"encoding":{"x":{"datum":0,"type":"quantitative","scale":{"domain":[-0.0618,1.0598],"nice":false,"zero":false},"axis":null},"y":{"datum":0,"type":"quantitative","scale":{"domain":[-0.0694,1.0496],"nice":false,"zero":false},"axis":null},"text":{"field":"t"}}},
{"data":{"values":[{"t":"z2"}]},"mark":{"type":"text","align":"left","baseline":"middle","fontSize":10.5,"fontStyle":"italic","color":"#000"},
"encoding":{"x":{"datum":0.02,"type":"quantitative","scale":{"domain":[-0.0618,1.0598],"nice":false,"zero":false},"axis":null},"y":{"datum":1.012,"type":"quantitative","scale":{"domain":[-0.0694,1.0496],"nice":false,"zero":false},"axis":null},"text":{"field":"t"}}},
{"data":{"values":[{"t":"z1"}]},"mark":{"type":"text","align":"left","baseline":"middle","fontSize":10.5,"fontStyle":"italic","color":"#000"},
"encoding":{"x":{"datum":1.008,"type":"quantitative","scale":{"domain":[-0.0618,1.0598],"nice":false,"zero":false},"axis":null},"y":{"datum":0.03,"type":"quantitative","scale":{"domain":[-0.0694,1.0496],"nice":false,"zero":false},"axis":null},"text":{"field":"t"}}},
{"data":{"values":[{"t":"ES"}]},"mark":{"type":"text","align":"left","baseline":"alphabetic","fontSize":31,"color":"#000"},
"encoding":{"x":{"datum":0.462,"type":"quantitative","scale":{"domain":[-0.0618,1.0598],"nice":false,"zero":false},"axis":null},"y":{"datum":0.821,"type":"quantitative","scale":{"domain":[-0.0694,1.0496],"nice":false,"zero":false},"axis":null},"text":{"field":"t"}}}
]
},
{
"width":560,"height":564,
"title":{"text":"b","orient":"bottom","anchor":"start","offset":7,"dx":-8,"fontSize":20,"font":"DejaVu Serif","fontStyle":"italic","fontWeight":"normal","color":"#000"},
"data":{"name":"b"},
"layer":[
{"transform":[{"filter":"datum.k=='h'"}],"mark":{"type":"line","color":"#8c8c8c","strokeWidth":1},
"encoding":{"x":{"field":"x","type":"quantitative","scale":{"domain":[-0.07,1.05],"nice":false,"zero":false},"axis":null},"y":{"field":"y","type":"quantitative","scale":{"domain":[-0.0673,1.0495],"nice":false,"zero":false},"axis":null},"detail":{"field":"c"},"order":{"value":null}}},
{"transform":[{"filter":"datum.k=='g'"}],"mark":{"type":"line","color":"#6f8585","strokeWidth":0.8,"interpolate":"catmull-rom"},
"encoding":{"x":{"field":"x","type":"quantitative","scale":{"domain":[-0.07,1.05],"nice":false,"zero":false},"axis":null},"y":{"field":"y","type":"quantitative","scale":{"domain":[-0.0673,1.0495],"nice":false,"zero":false},"axis":null},"detail":{"field":"c"},"order":{"value":null}}},
{"transform":[{"filter":"datum.k=='t'"}],"mark":{"type":"line","color":"#1a1a1a","strokeWidth":1,"interpolate":"catmull-rom"},
"encoding":{"x":{"field":"x","type":"quantitative","scale":{"domain":[-0.07,1.05],"nice":false,"zero":false},"axis":null},"y":{"field":"y","type":"quantitative","scale":{"domain":[-0.0673,1.0495],"nice":false,"zero":false},"axis":null},"detail":{"field":"c"},"order":{"value":null}}},
{"transform":[{"filter":"datum.k=='s'"}],"mark":{"type":"line","color":"#000","strokeWidth":2.6,"interpolate":"catmull-rom"},
"encoding":{"x":{"field":"x","type":"quantitative","scale":{"domain":[-0.07,1.05],"nice":false,"zero":false},"axis":null},"y":{"field":"y","type":"quantitative","scale":{"domain":[-0.0673,1.0495],"nice":false,"zero":false},"axis":null},"detail":{"field":"c"},"order":{"value":null}}},
{"transform":[{"filter":"datum.k=='ar'"}],"mark":{"type":"line","color":"#333","strokeWidth":0.8},
"encoding":{"x":{"field":"x","type":"quantitative","scale":{"domain":[-0.07,1.05],"nice":false,"zero":false},"axis":null},"y":{"field":"y","type":"quantitative","scale":{"domain":[-0.0673,1.0495],"nice":false,"zero":false},"axis":null},"detail":{"field":"c"},"order":{"value":null}}},
{"transform":[{"filter":"datum.k=='ld'"}],"mark":{"type":"line","color":"#555","strokeWidth":1},
"encoding":{"x":{"field":"x","type":"quantitative","scale":{"domain":[-0.07,1.05],"nice":false,"zero":false},"axis":null},"y":{"field":"y","type":"quantitative","scale":{"domain":[-0.0673,1.0495],"nice":false,"zero":false},"axis":null},"detail":{"field":"c"},"order":{"value":null}}},
{"transform":[{"filter":"datum.k=='ax'"}],"mark":{"type":"line","color":"#000","strokeWidth":1.6},
"encoding":{"x":{"field":"x","type":"quantitative","scale":{"domain":[-0.07,1.05],"nice":false,"zero":false},"axis":null},"y":{"field":"y","type":"quantitative","scale":{"domain":[-0.0673,1.0495],"nice":false,"zero":false},"axis":null},"detail":{"field":"c"},"order":{"value":null}}},
{"transform":[{"filter":"datum.k=='r'"}],"mark":{"type":"line","color":"#e8000a","strokeWidth":3.2,"interpolate":"catmull-rom"},
"encoding":{"x":{"field":"x","type":"quantitative","scale":{"domain":[-0.07,1.05],"nice":false,"zero":false},"axis":null},"y":{"field":"y","type":"quantitative","scale":{"domain":[-0.0673,1.0495],"nice":false,"zero":false},"axis":null},"detail":{"field":"c"},"order":{"value":null}}},
{"data":{"values":[{"p":"top"}]},"mark":{"type":"point","shape":"M-0.7,1L0,-1L0.7,1","filled":false,"stroke":"#000","strokeWidth":1.3,"size":90,"opacity":1},
"encoding":{"x":{"datum":0,"type":"quantitative","scale":{"domain":[-0.07,1.05],"nice":false,"zero":false},"axis":null},"y":{"datum":1.03,"type":"quantitative","scale":{"domain":[-0.0673,1.0495],"nice":false,"zero":false},"axis":null}}},
{"data":{"values":[{"p":"right"}]},"mark":{"type":"point","shape":"M-1,-0.7L1,0L-1,0.7","filled":false,"stroke":"#000","strokeWidth":1.3,"size":90,"opacity":1},
"encoding":{"x":{"datum":1.025,"type":"quantitative","scale":{"domain":[-0.07,1.05],"nice":false,"zero":false},"axis":null},"y":{"datum":0,"type":"quantitative","scale":{"domain":[-0.0673,1.0495],"nice":false,"zero":false},"axis":null}}},
{"data":{"values":[{"p":"ES"}]},"mark":{"type":"point","filled":true,"color":"#e8000a","size":140,"opacity":1},
"encoding":{"x":{"datum":0.002,"type":"quantitative","scale":{"domain":[-0.07,1.05],"nice":false,"zero":false},"axis":null},"y":{"datum":0.891,"type":"quantitative","scale":{"domain":[-0.0673,1.0495],"nice":false,"zero":false},"axis":null}}},
{"data":{"name":"ty"},"mark":{"type":"text","align":"left","baseline":"middle","dx":-24,"fontSize":10.5,"color":"#000"},
"encoding":{"x":{"datum":0,"type":"quantitative","scale":{"domain":[-0.07,1.05],"nice":false,"zero":false},"axis":null},"y":{"field":"v","type":"quantitative","scale":{"domain":[-0.0673,1.0495],"nice":false,"zero":false},"axis":null},"text":{"field":"t"}}},
{"data":{"name":"tx"},"mark":{"type":"text","align":"center","baseline":"middle","dy":16,"fontSize":10.5,"color":"#000"},
"encoding":{"x":{"field":"v","type":"quantitative","scale":{"domain":[-0.07,1.05],"nice":false,"zero":false},"axis":null},"y":{"datum":0,"type":"quantitative","scale":{"domain":[-0.0673,1.0495],"nice":false,"zero":false},"axis":null},"text":{"field":"t"}}},
{"data":{"values":[{"t":"0.0"}]},"mark":{"type":"text","align":"left","baseline":"middle","dx":-24,"dy":16,"fontSize":10.5,"color":"#000"},
"encoding":{"x":{"datum":0,"type":"quantitative","scale":{"domain":[-0.07,1.05],"nice":false,"zero":false},"axis":null},"y":{"datum":0,"type":"quantitative","scale":{"domain":[-0.0673,1.0495],"nice":false,"zero":false},"axis":null},"text":{"field":"t"}}},
{"data":{"values":[{"t":"z2"}]},"mark":{"type":"text","align":"left","baseline":"middle","fontSize":10.5,"fontStyle":"italic","color":"#000"},
"encoding":{"x":{"datum":0.016,"type":"quantitative","scale":{"domain":[-0.07,1.05],"nice":false,"zero":false},"axis":null},"y":{"datum":1.01,"type":"quantitative","scale":{"domain":[-0.0673,1.0495],"nice":false,"zero":false},"axis":null},"text":{"field":"t"}}},
{"data":{"values":[{"t":"z1"}]},"mark":{"type":"text","align":"left","baseline":"middle","fontSize":10.5,"fontStyle":"italic","color":"#000"},
"encoding":{"x":{"datum":1.008,"type":"quantitative","scale":{"domain":[-0.07,1.05],"nice":false,"zero":false},"axis":null},"y":{"datum":0.032,"type":"quantitative","scale":{"domain":[-0.0673,1.0495],"nice":false,"zero":false},"axis":null},"text":{"field":"t"}}},
{"data":{"values":[{"t":"ES"}]},"mark":{"type":"text","align":"left","baseline":"alphabetic","fontSize":29,"color":"#000"},
"encoding":{"x":{"datum":0.306,"type":"quantitative","scale":{"domain":[-0.07,1.05],"nice":false,"zero":false},"axis":null},"y":{"datum":0.887,"type":"quantitative","scale":{"domain":[-0.0673,1.0495],"nice":false,"zero":false},"axis":null},"text":{"field":"t"}}}
]
}
]
}
